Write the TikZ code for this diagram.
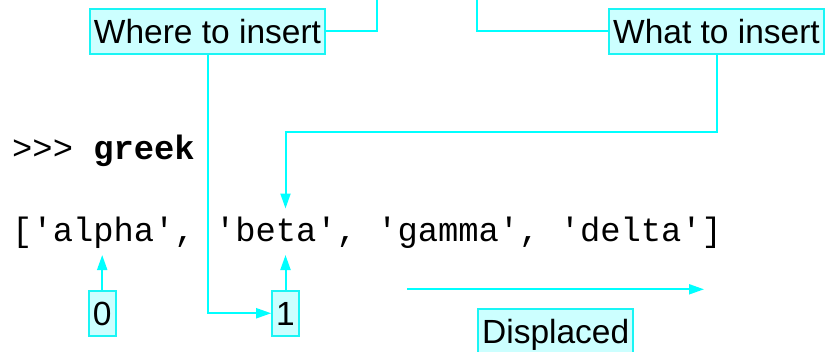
\documentclass[tikz,border=0pt]{standalone}
\usepackage{fontspec}
\setmainfont{Liberation Sans}
\setsansfont{Liberation Sans}
\setmonofont{Liberation Mono}
\usetikzlibrary{arrows.meta}
\definecolor{lineC}{HTML}{00FFFF}
\definecolor{boxFill}{HTML}{CCFFFF}
\definecolor{boxLine}{HTML}{1AF5F5}
\tikzset{
  x=1pt, y=-1pt,
  labelbox/.style={draw=boxLine, fill=boxFill, line width=2pt,
    font=\fontsize{33.5}{36}\selectfont, anchor=base, inner xsep=4pt, inner ysep=0pt,
    text height=34.5pt, text depth=10pt},
  conn/.style={draw=lineC, line width=2pt},
  arr/.style={conn, -{Triangle[length=15pt,width=10pt]}},
  code/.style={font=\ttfamily\fontsize{33.8}{36}\selectfont, anchor=base west, inner sep=0pt},
}
\begin{document}
\begin{tikzpicture}
\useasboundingbox (0,0) rectangle (827,351);
% labels
\node[labelbox] (where) at (207.5,43.5) {Where to insert};
\node[labelbox] (what) at (716.5,43.5) {What to insert};
\node[labelbox] (zero) at (102.2,325.5) {0};
\node[labelbox] (one) at (285.5,325.5) {1};
\node[labelbox] (disp) at (555.7,343.5) {Displaced};
% code
\node[code] (prompt) at (12,159) {>>> \textbf{greek}};
\node[code] (list) at (12,241.5) {['alpha', 'beta', 'gamma', 'delta']};
% free ends
\coordinate (topA) at (377,-2);
\coordinate (topB) at (477,-2);
\coordinate (betatop) at (285.5,208.5);
\coordinate (alphabot) at (102.2,255);
\coordinate (betabot) at (285.5,255);
\coordinate (dispA) at (407,289.3);
\coordinate (dispB) at (704,289.3);
% connectors
\draw[conn] (where.east) -| (topA);
\draw[conn] (what.west) -| (topB);
\draw[arr] (where.south) |- (one.west);
\draw[arr] (what.south) |- (285.5,132.3) -- (betatop);
\draw[arr] (zero.north) -- (alphabot);
\draw[arr] (one.north) -- (betabot);
\draw[arr] (dispA) -- (dispB);
\end{tikzpicture}
\end{document}
